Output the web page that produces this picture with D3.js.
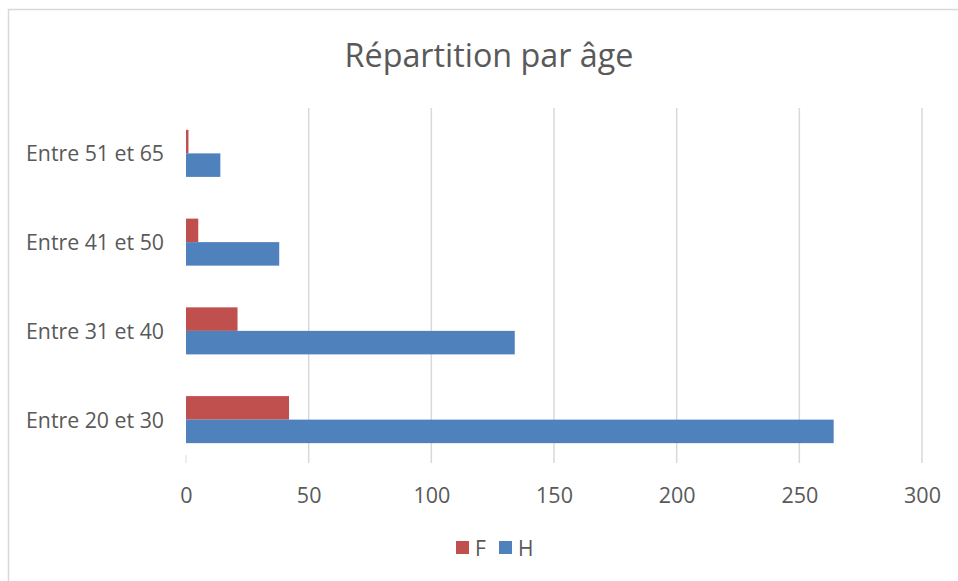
<!DOCTYPE html>
<html><head><meta charset="utf-8">
<script src="https://cdn.jsdelivr.net/npm/d3@7/dist/d3.min.js"></script>
<style>html,body{margin:0;padding:0;background:#fff;} svg{display:block;}</style>
</head><body>
<svg id="chart" width="958" height="581"></svg>
<script>
const categories = ["Entre 51 et 65", "Entre 41 et 50", "Entre 31 et 40", "Entre 20 et 30"];
const seriesNames = ["F", "H"];
const valuesF = [1, 5, 21, 42];
const valuesH = [14, 38, 134, 264];
const xTicks = [0, 50, 100, 150, 200, 250, 300];
const colors = {F: "#C0504D", H: "#4F81BD"};
const title = "Répartition par âge";

const font = "'Open Sans', 'DejaVu Sans', sans-serif";
const textColor = "#595959";
const svg = d3.select("#chart");

// chart border
svg.append("rect").attr("x", 8.5).attr("y", 9.5).attr("width", 1000).attr("height", 1000)
  .attr("fill", "#fff").attr("stroke", "#d9d9d9").attr("stroke-width", 1.5);

const x = d3.scaleLinear().domain([0, 300]).range([186, 922]);
const y = d3.scaleBand().domain(categories).range([109, 464]).paddingInner(0.47).paddingOuter(0.235);
const sub = d3.scaleBand().domain(seriesNames).range([0, y.bandwidth()]);

// gridlines
svg.append("g").selectAll("line").data(xTicks.filter(d => d > 0)).join("line")
  .attr("x1", d => x(d)).attr("x2", d => x(d))
  .attr("y1", 108).attr("y2", 463)
  .attr("stroke", "#d9d9d9").attr("stroke-width", 1.5);
svg.append("line").attr("x1", x(0)).attr("x2", x(0)).attr("y1", 455).attr("y2", 463)
  .attr("stroke", "#e8e8e8").attr("stroke-width", 1.5);

const data = categories.map((c, i) => ({cat: c, F: valuesF[i], H: valuesH[i]}));

const g = svg.append("g").selectAll("g").data(data).join("g")
  .attr("transform", d => `translate(0,${y(d.cat)})`);
g.selectAll("rect").data(d => seriesNames.map(s => ({s, v: d[s]}))).join("rect")
  .attr("x", x(0)).attr("y", d => sub(d.s))
  .attr("width", d => x(d.v) - x(0)).attr("height", sub.bandwidth())
  .attr("fill", d => colors[d.s]);

// x axis labels
const xAxis = d3.axisBottom(x).tickValues(xTicks).tickSize(0).tickPadding(0);
const xg = svg.append("g").attr("transform", "translate(0,485)").call(xAxis);
xg.select(".domain").remove();
xg.selectAll("text").attr("font-family", font).attr("font-size", 21.5).attr("fill", textColor)
  .attr("dy", "0.84em");

// y axis labels
const yAxis = d3.axisLeft(y).tickSize(0).tickPadding(0);
const yg = svg.append("g").attr("transform", "translate(164,0)").call(yAxis);
yg.select(".domain").remove();
yg.selectAll("text").attr("font-family", font).attr("font-size", 21.3).attr("fill", textColor)
  .attr("dy", "0.38em");

// title
svg.append("text").attr("x", 489).attr("y", 67).attr("text-anchor", "middle")
  .attr("font-family", font).attr("font-size", 32.3).attr("fill", textColor).text(title);

// legend
const legendPos = {F: 456, H: 499};
const lg = svg.append("g").selectAll("g").data(seriesNames).join("g")
  .attr("transform", d => `translate(${legendPos[d]},541)`);
lg.append("rect").attr("width", 13).attr("height", 13).attr("fill", d => colors[d]);
lg.append("text").attr("x", 19).attr("y", 14.8).attr("font-family", font).attr("font-size", 21)
  .attr("fill", textColor).text(d => d);
</script>
</body></html>
